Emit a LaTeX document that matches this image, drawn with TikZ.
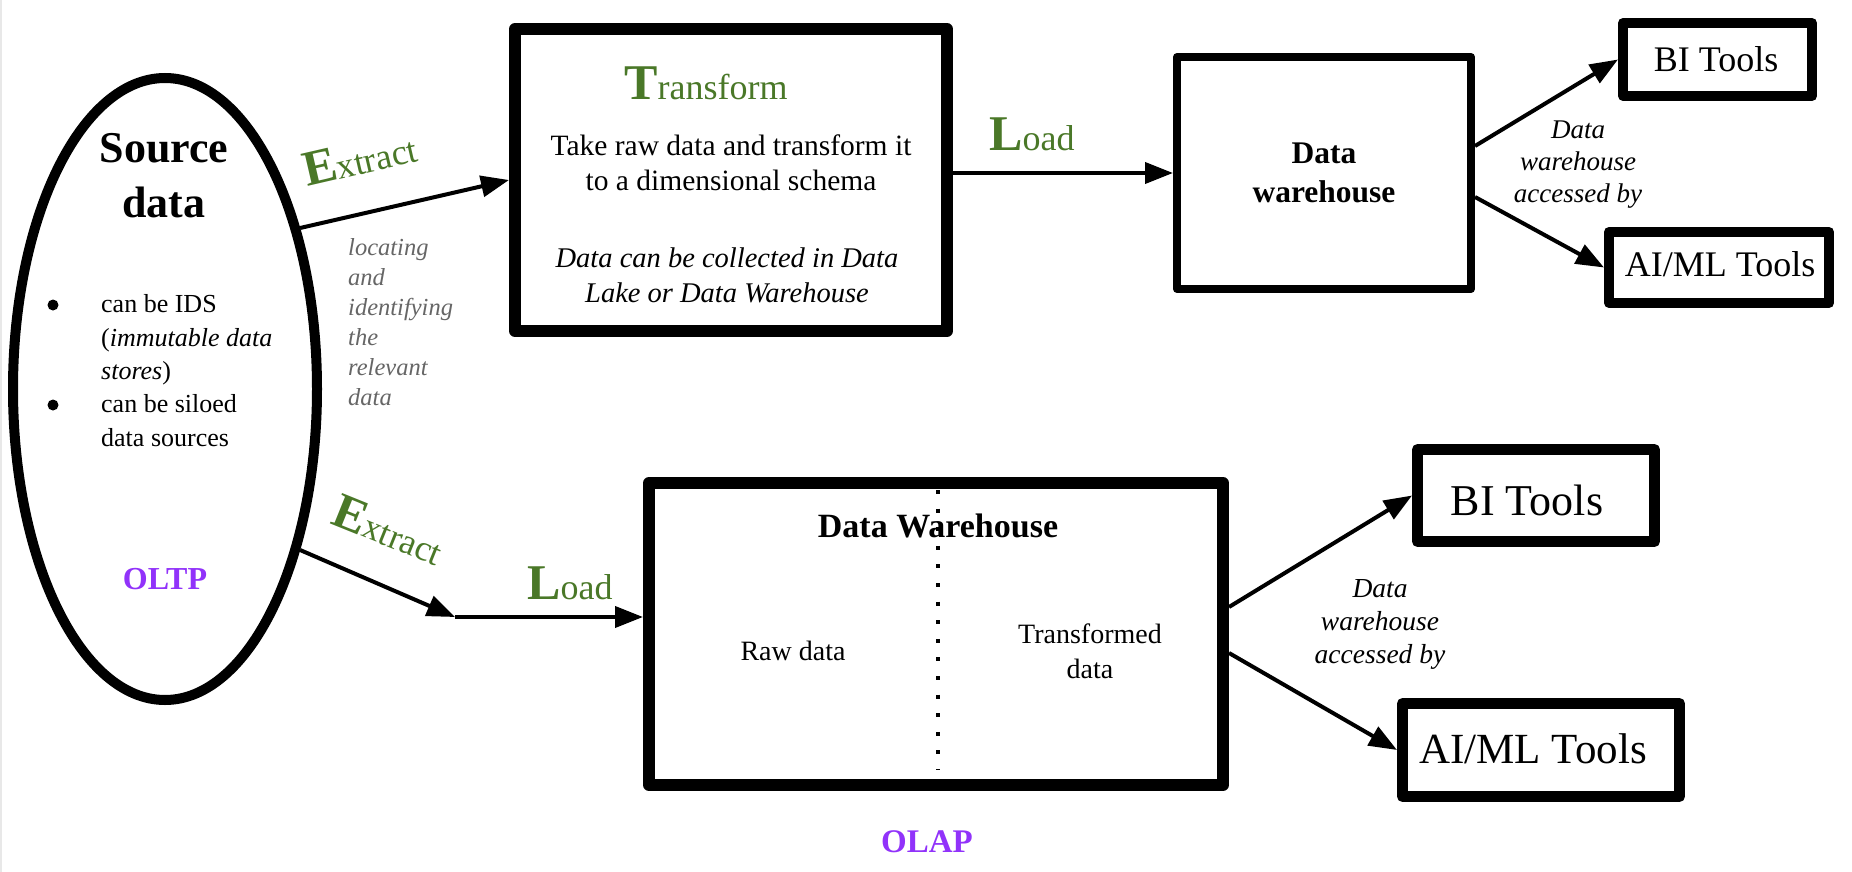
\documentclass[tikz,border=0pt]{standalone}
\usepackage{fontspec}
\setmainfont{Liberation Serif}
\usetikzlibrary{shapes.geometric,arrows.meta}
\definecolor{etlgreen}{RGB}{74,120,40}
\definecolor{olpurple}{RGB}{145,50,250}
\definecolor{notegray}{RGB}{102,102,102}
\newcommand{\myfs}[2]{\fontsize{#1pt}{#2pt}\selectfont}
\newcommand{\bigL}[1]{{\myfs{50}{50}\bfseries #1}}
\newcommand{\smallL}[1]{{\myfs{36}{36}#1}}
\begin{document}
\begin{tikzpicture}[x=1pt,y=-1pt,
  box/.style={draw, rectangle, inner sep=0pt, line join=round},
  arr/.style={line width=4pt, -{Triangle[length=28pt,width=21pt]}},
  txt/.style={inner sep=0pt, anchor=base, align=center},
  ltxt/.style={inner sep=0pt, anchor=base west, align=left},
  dot/.style={circle, fill, inner sep=0pt, minimum size=11pt}
]
\useasboundingbox (0,0) rectangle (1852,872);
\fill[gray!18] (0,0) rectangle (2,872);

% ---------- shapes ----------
\node[draw, ellipse, line width=10pt, minimum width=304pt, minimum height=622pt, inner sep=0pt] (src) at (165,389) {};
\node[box, line width=12pt, minimum width=432pt, minimum height=302pt] (tr) at (731,180) {};
\node[box, line width=8pt, minimum width=294pt, minimum height=232pt] (dw) at (1324,173) {};
\node[box, line width=10pt, minimum width=189pt, minimum height=73pt] (bi1) at (1717.5,59.5) {};
\node[box, line width=10pt, minimum width=220pt, minimum height=71pt] (ai1) at (1719,267.5) {};
\node[box, line width=12pt, minimum width=574pt, minimum height=302pt] (dw2) at (936,634) {};
\node[box, line width=11pt, minimum width=237pt, minimum height=92pt] (bi2) at (1536,495.5) {};
\node[box, line width=11pt, minimum width=277pt, minimum height=93pt] (ai2) at (1541,750) {};

% dotted divider
\draw[line width=4pt, dash pattern=on 4pt off 14.6pt] (938,490) -- (938,770);

% ---------- texts (multi-line nodes anchored at the last line's baseline) ----------
\node[txt, font=\myfs{44}{55}\bfseries] (srcT) at (164,217) {Source\\data};
\node[dot] (d1) at (53,305) {};
\node[dot] (d2) at (53,405) {};
\node[ltxt, font=\myfs{26}{33.3}] (blist) at (101,446) {can be IDS\\(\textit{immutable data}\\\textit{stores})\\can be siloed\\data sources};
\node[txt, font=\myfs{32}{32}\bfseries, text=olpurple] (oltp) at (165,589) {OLTP};

\node[ltxt, rotate=13, text=etlgreen] (ex1) at (307,187) {\bigL{E}\smallL{xtract}};
\node[ltxt, font=\myfs{24.5}{30}\itshape, text=notegray] (loc) at (348,405) {locating\\and\\identifying\\the\\relevant\\data};

\node[txt, text=etlgreen] (trT) at (706,100) {\bigL{T}\smallL{ransform}};
\node[txt, font=\myfs{29.5}{35}] (trD) at (731,190) {Take raw data and transform it\\to a dimensional schema};
\node[txt, font=\myfs{28.5}{35}\itshape] (trN) at (727,302) {Data can be collected in Data\\Lake or Data Warehouse};

\node[txt, text=etlgreen] (ld1) at (1032,150) {\bigL{L}\smallL{oad}};
\node[txt, font=\myfs{31.5}{39}\bfseries] (dwT) at (1324,202) {Data\\warehouse};
\node[txt, font=\myfs{36}{36}] (bi1T) at (1716,72) {BI Tools};
\node[txt, font=\myfs{36}{36}] (ai1T) at (1720,276) {AI/ML Tools};
\node[txt, font=\myfs{27}{32}\itshape] (acc1) at (1578,202) {Data\\warehouse\\accessed by};

\node[ltxt, rotate=-22, text=etlgreen] (ex2) at (329,523) {\bigL{E}\smallL{xtract}};
\node[txt, text=etlgreen] (ld2) at (570,599) {\bigL{L}\smallL{oad}};
\node[txt, font=\myfs{34}{34}\bfseries] (dw2T) at (938,537) {Data Warehouse};
\node[txt, font=\myfs{28}{35}] (raw) at (793,660) {Raw data};
\node[txt, font=\myfs{28}{35}] (trd) at (1090,678) {Transformed\\data};
\node[txt, font=\myfs{33}{33}\bfseries, text=olpurple] (olap) at (927,852) {OLAP};
\node[txt, font=\myfs{44}{44}] (bi2T) at (1527,515) {BI Tools};
\node[txt, font=\myfs{43}{43}] (ai2T) at (1533,763) {AI/ML Tools};
\node[txt, font=\myfs{27.5}{33}\itshape] (acc2) at (1380,663) {Data\\warehouse\\accessed by};

% ---------- connectors ----------
\draw[arr] (src.50) -- (tr.west);
\draw[arr] (tr.east |- dw.west) -- (dw.west);
\draw[arr] ([yshift=27pt]dw.east) -- (bi1.west);
\draw[arr] ([yshift=-24pt]dw.east) -- (ai1.west);
\coordinate (mid) at (455,617);
\draw[arr] (src.-50) -- (mid);
\draw[arr] (mid) -- (mid -| dw2.west);
\draw[arr] ([yshift=27pt]dw2.east) -- (bi2.west);
\draw[arr] ([yshift=-19pt]dw2.east) -- (ai2.west);
\end{tikzpicture}
\end{document}
